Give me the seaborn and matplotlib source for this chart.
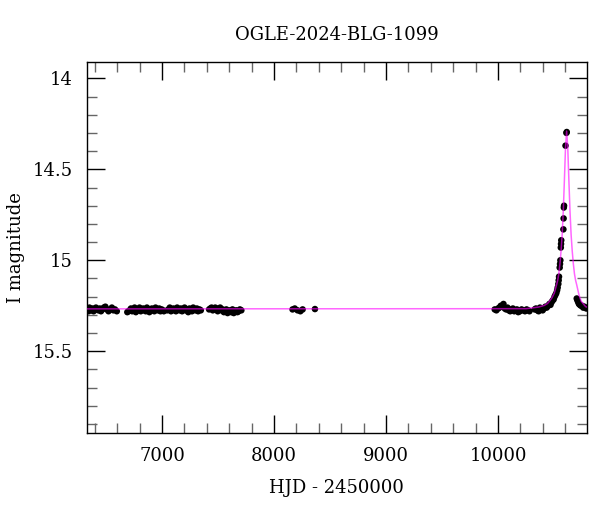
import numpy as np
import pandas as pd
import matplotlib
matplotlib.use("Agg")
import matplotlib.pyplot as plt
import seaborn as sns
from matplotlib.ticker import MultipleLocator

# OGLE photometry (HJD - 2450000, I mag)
s1_t = [6335, 6344, 6352, 6361, 6370, 6380, 6389, 6398, 6410, 6421, 6432, 6444, 6455, 6468,
        6480, 6494, 6508, 6522, 6537, 6552, 6566, 6580, 6596]
s1_m = [15.27, 15.28, 15.26, 15.27, 15.275, 15.265, 15.28, 15.27, 15.26, 15.27, 15.275, 15.265,
        15.28, 15.27, 15.26, 15.255, 15.27, 15.28, 15.27, 15.26, 15.275, 15.27, 15.28]
s2_t = [6690, 6700, 6711, 6722, 6733, 6744, 6755, 6766, 6777, 6788, 6799, 6810, 6821, 6832,
        6843, 6854, 6865, 6876, 6887, 6898, 6909, 6920, 6931, 6942, 6953, 6964, 6975, 6986,
        6997, 7008, 7016]
s2_m = [15.285, 15.28, 15.275, 15.265, 15.28, 15.27, 15.26, 15.285, 15.27, 15.275, 15.26,
        15.28, 15.27, 15.265, 15.275, 15.28, 15.26, 15.27, 15.285, 15.27, 15.265, 15.275, 15.28,
        15.26, 15.27, 15.275, 15.265, 15.28, 15.27, 15.275, 15.28]
s3_t = [7047, 7058, 7069, 7080, 7091, 7102, 7113, 7124, 7135, 7146, 7157, 7168, 7179, 7190,
        7201, 7212, 7223, 7234, 7245, 7256, 7267, 7278, 7289, 7300, 7311, 7322, 7334, 7346]
s3_m = [15.275, 15.27, 15.26, 15.28, 15.27, 15.265, 15.275, 15.28, 15.26, 15.27, 15.275,
        15.265, 15.28, 15.27, 15.26, 15.275, 15.27, 15.285, 15.265, 15.27, 15.28, 15.26, 15.27,
        15.275, 15.265, 15.28, 15.27, 15.275]
s4_t = [7420, 7431, 7442, 7453, 7464, 7475, 7486, 7497, 7508, 7519, 7530, 7541, 7552, 7563,
        7574, 7585, 7596, 7607, 7618, 7629, 7640, 7651, 7662, 7673, 7684, 7695, 7708]
s4_m = [15.27, 15.265, 15.26, 15.275, 15.27, 15.26, 15.265, 15.28, 15.27, 15.26, 15.275,
        15.27, 15.285, 15.28, 15.27, 15.29, 15.28, 15.275, 15.285, 15.27, 15.29, 15.28, 15.275,
        15.285, 15.28, 15.27, 15.275]
s5_t = [8165, 8185, 8210, 8235, 8255, 8365]
s5_m = [15.27, 15.265, 15.275, 15.28, 15.27, 15.268]
s6_t = [9970, 9985, 10000, 10012, 10024, 10036, 10048, 10060, 10072, 10084, 10096, 10108,
        10120, 10132, 10144, 10156, 10168, 10180, 10195, 10210, 10225, 10240, 10255, 10270,
        10280]
s6_m = [15.27, 15.275, 15.265, 15.26, 15.25, 15.255, 15.24, 15.265, 15.27, 15.26, 15.275,
        15.28, 15.27, 15.265, 15.28, 15.275, 15.27, 15.285, 15.28, 15.27, 15.275, 15.28,
        15.27, 15.275, 15.28]
s7_t = [10326, 10338, 10350, 10362, 10374, 10386, 10398, 10410, 10422, 10434, 10446, 10458,
        10468, 10478, 10488, 10496, 10504, 10512, 10520, 10527, 10532, 10538, 10541, 10544,
        10550, 10553, 10556, 10560, 10562, 10564, 10583, 10585, 10587, 10589, 10602, 10610,
        10613]
s7_m = [15.27, 15.265, 15.275, 15.28, 15.26, 15.27, 15.275, 15.265, 15.255, 15.26, 15.25,
        15.24, 15.245, 15.23, 15.22, 15.215, 15.2, 15.19, 15.18, 15.165, 15.15, 15.13, 15.11,
        15.09, 15.04, 15.02, 15.0, 14.93, 14.91, 14.89, 14.83, 14.77, 14.71, 14.70, 14.37,
        14.30, 14.295]
s8_t = [10702, 10708, 10715, 10722, 10730, 10740, 10750, 10760, 10770, 10780, 10788]
s8_m = [15.21, 15.22, 15.23, 15.24, 15.245, 15.25, 15.25, 15.26, 15.255, 15.26, 15.265]

# microlensing model curve
model_t = [6300, 10250, 10362, 10412, 10442, 10462, 10482, 10502, 10522, 10532, 10542,
           10552, 10562, 10572, 10582, 10592, 10602, 10612, 10622, 10632, 10642, 10652,
           10662, 10672, 10682, 10692, 10702, 10722, 10742, 10782, 10800]
model_m = [15.267, 15.266, 15.257, 15.248, 15.237, 15.222, 15.205, 15.18, 15.135, 15.11,
           15.075, 15.02, 14.95, 14.86, 14.73, 14.56, 14.38, 14.29, 14.38, 14.56, 14.73,
           14.86, 14.95, 15.02, 15.075, 15.11, 15.135, 15.19, 15.225, 15.255, 15.258]

obs = pd.DataFrame({
    "hjd": s1_t + s2_t + s3_t + s4_t + s5_t + s6_t + s7_t + s8_t,
    "mag": s1_m + s2_m + s3_m + s4_m + s5_m + s6_m + s7_m + s8_m,
})
model = pd.DataFrame({"hjd": model_t, "mag": model_m})

sns.set_theme(style="ticks")
plt.rcParams["font.family"] = ["DejaVu Serif"]
plt.rcParams["text.color"] = "black"
plt.rcParams["axes.labelcolor"] = "black"
plt.rcParams["xtick.labelcolor"] = "black"
plt.rcParams["ytick.labelcolor"] = "black"

fig = plt.figure(figsize=(6, 5.12), dpi=100)
ax = fig.add_axes([0.145, 0.154, 0.833, 0.725])

sns.scatterplot(data=obs, x="hjd", y="mag", ax=ax, color="black", s=22,
                edgecolor="none", zorder=2)
sns.lineplot(data=model, x="hjd", y="mag", ax=ax, color="#ff00ff", lw=1.1,
             alpha=0.6, sort=False, estimator=None, zorder=3)

ax.set_xlim(6330, 10792)
ax.set_ylim(15.95, 13.91)
ax.xaxis.set_major_locator(MultipleLocator(1000))
ax.xaxis.set_minor_locator(MultipleLocator(200))
ax.yaxis.set_major_locator(MultipleLocator(0.5))
ax.yaxis.set_minor_locator(MultipleLocator(0.1))
ax.yaxis.set_major_formatter(plt.FuncFormatter(lambda v, p: f"{v:g}"))
ax.tick_params(which="both", direction="in", top=True, right=True, labelsize=13)
ax.tick_params(which="major", length=13, width=1, color="black", pad=10)
ax.tick_params(which="minor", length=7, width=1, color="#666666")
for sp in ax.spines.values():
    sp.set_linewidth(1)
    sp.set_color("black")

ax.set_xlabel("HJD - 2450000", fontsize=13, labelpad=10)
ax.set_ylabel("I magnitude", fontsize=13, labelpad=6)
ax.set_title("OGLE-2024-BLG-1099", fontsize=13, pad=16)

fig.savefig("out.png", dpi=100)
